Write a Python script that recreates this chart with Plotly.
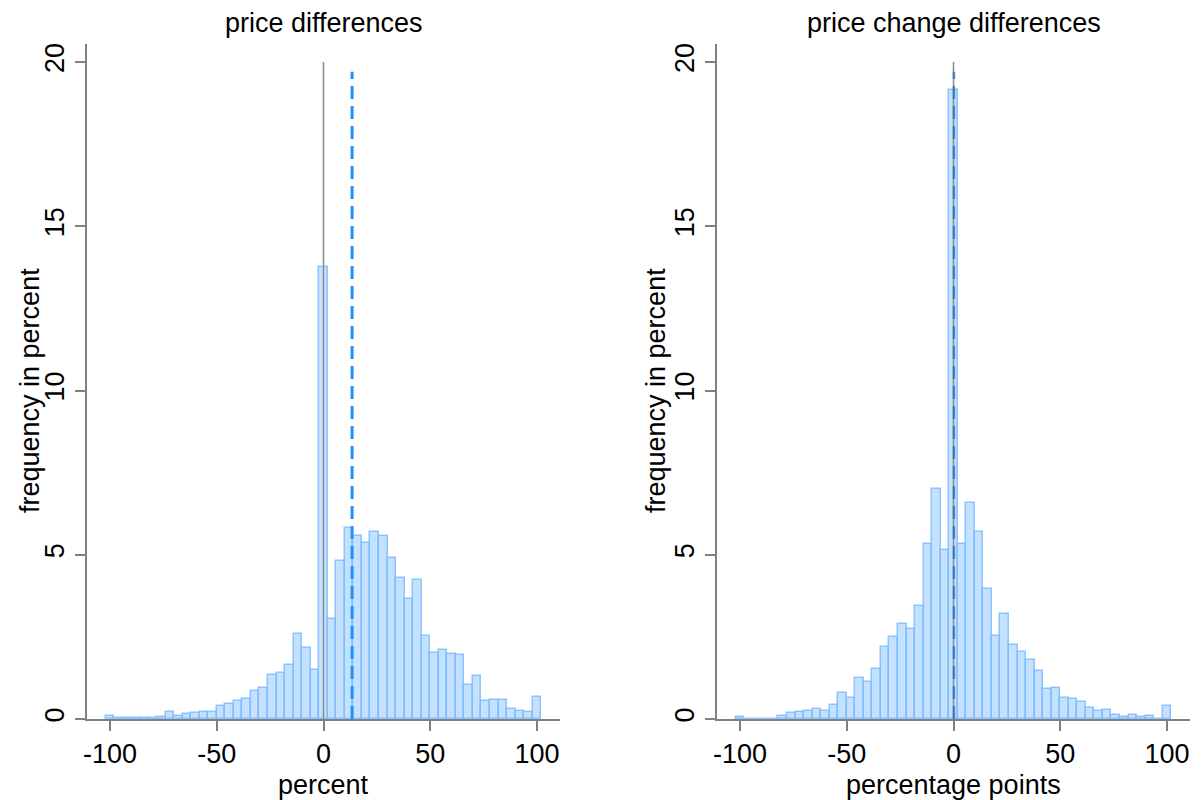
import plotly.graph_objects as go

# bin centres (bin width 4)
bins = list(range(-100, 101, 4))

price_diff = [
    0.08, 0.02, 0.03, 0.03, 0.04, 0.04, 0.05, 0.20, 0.10, 0.15,
    0.19, 0.21, 0.21, 0.39, 0.46, 0.55, 0.62, 0.85, 0.95, 1.33,
    1.41, 1.64, 2.58, 2.17, 1.49, 13.75, 3.04, 4.81, 5.81, 5.56,
    5.35, 5.70, 5.57, 4.91, 4.30, 3.64, 4.22, 2.53, 2.01, 2.10,
    1.99, 1.95, 1.02, 1.32, 0.55, 0.57, 0.59, 0.29, 0.24, 0.20,
    0.68,
]
change_diff = [
    0.07, 0.01, 0.01, 0.01, 0.01, 0.08, 0.17, 0.21, 0.24, 0.29,
    0.25, 0.44, 0.80, 0.65, 1.26, 1.13, 1.53, 2.19, 2.51, 2.88,
    2.73, 3.45, 5.34, 7.00, 5.13, 19.15, 5.33, 6.58, 5.70, 3.96,
    2.54, 3.20, 2.26, 2.05, 1.81, 1.47, 0.91, 0.93, 0.64, 0.61,
    0.51, 0.35, 0.24, 0.26, 0.13, 0.07, 0.11, 0.06, 0.09, 0.01,
    0.39,
]
mean_left = 13.4
mean_right = 0.2

x_ticks = [-100, -50, 0, 50, 100]
x_ticktext = ["-100", "-50", "0", "50", "100"]
y_ticks = [0, 5, 10, 15, 20]
titles = ["price differences", "price change differences"]
x_titles = ["percent", "percentage points"]
y_title = "frequency in percent"

# page body has an 8px margin, so work in screen pixels minus 8
OFF = 8
W, H = 1202 - OFF, 800 - OFF
FONT = "Liberation Sans"
FS = 27
AX = "#808080"
BAR_FILL = "rgba(125,188,255,0.45)"
BAR_LINE = "rgba(125,188,255,0.85)"


def px(x):
    return (x - OFF) / W


def py(y):
    return 1 - (y - OFF) / H


# screen-pixel layout of the two panels
panel_x = [(87, 560), (717, 1190)]
ytitle_x = [30, 656]
y_bot, y_top = 719, 44
ppu = (719 - 62) / 20.0
y_max = (y_bot - y_top) / ppu

fig = go.Figure()
for k, vals in enumerate([price_diff, change_diff]):
    sfx = "" if k == 0 else str(k + 1)
    fig.add_trace(go.Bar(
        x=bins, y=vals, width=4,
        marker=dict(color=BAR_FILL, line=dict(color=BAR_LINE, width=1.5)),
        xaxis="x" + sfx, yaxis="y" + sfx, showlegend=False,
    ))

axis_common = dict(
    showgrid=False, zeroline=False, showline=True, linecolor=AX, linewidth=1.5,
    ticks="outside", ticklen=10, tickcolor=AX, tickwidth=1.5, automargin=False,
    tickfont=dict(family=FONT, size=FS, color="black"),
)

layout = dict(
    width=W, height=H, margin=dict(l=0, r=0, t=0, b=0, autoexpand=False),
    plot_bgcolor="white", paper_bgcolor="white", bargap=0,
    font=dict(family=FONT, color="black"),
)
shapes = []
annotations = []
txt = dict(xref="paper", yref="paper", showarrow=False,
           xanchor="center", yanchor="middle",
           font=dict(family=FONT, size=FS, color="black"))
for k in range(2):
    sfx = "" if k == 0 else str(k + 1)
    x0, x1 = panel_x[k]
    layout["xaxis" + sfx] = dict(
        axis_common, domain=[px(x0), px(x1)], range=[-110.8, 110.8],
        tickvals=x_ticks, ticktext=x_ticktext, anchor="y" + sfx,
    )
    layout["yaxis" + sfx] = dict(
        axis_common, domain=[py(y_bot), py(y_top)], range=[0, y_max],
        tickvals=y_ticks, tickangle=-90, anchor="x" + sfx,
    )
    # small x-axis extension left of the y axis
    shapes.append(dict(type="line", xref="paper", yref="paper",
                       x0=px(x0 - 12), x1=px(x0), y0=py(y_bot), y1=py(y_bot),
                       line=dict(color=AX, width=1.5)))
    cx = px((x0 + x1) / 2)
    annotations.append(dict(txt, text=titles[k], x=cx, y=py(23)))
    annotations.append(dict(txt, text=x_titles[k], x=cx, y=py(785)))
    annotations.append(dict(txt, text=y_title, x=px(ytitle_x[k]), y=py(391),
                            textangle=-90))

# zero lines and mean lines
shapes.append(dict(type="line", xref="x", yref="y", x0=0, x1=0, y0=0, y1=20,
                   line=dict(color="#8c8c8c", width=1.5)))
shapes.append(dict(type="line", xref="x", yref="y", x0=mean_left, x1=mean_left,
                   y0=0, y1=19.7, line=dict(color="#1e90ff", width=3, dash="13px,7px")))
shapes.append(dict(type="line", xref="x2", yref="y2", x0=0, x1=0, y0=0, y1=20,
                   line=dict(color="#8c8c8c", width=1.5)))
shapes.append(dict(type="line", xref="x2", yref="y2", x0=mean_right, x1=mean_right,
                   y0=0, y1=19.7, line=dict(color="rgba(40,110,190,0.75)", width=2.5,
                                            dash="13px,7px")))

layout["shapes"] = shapes
layout["annotations"] = annotations
fig.update_layout(**layout)

fig.write_html("out.html")
